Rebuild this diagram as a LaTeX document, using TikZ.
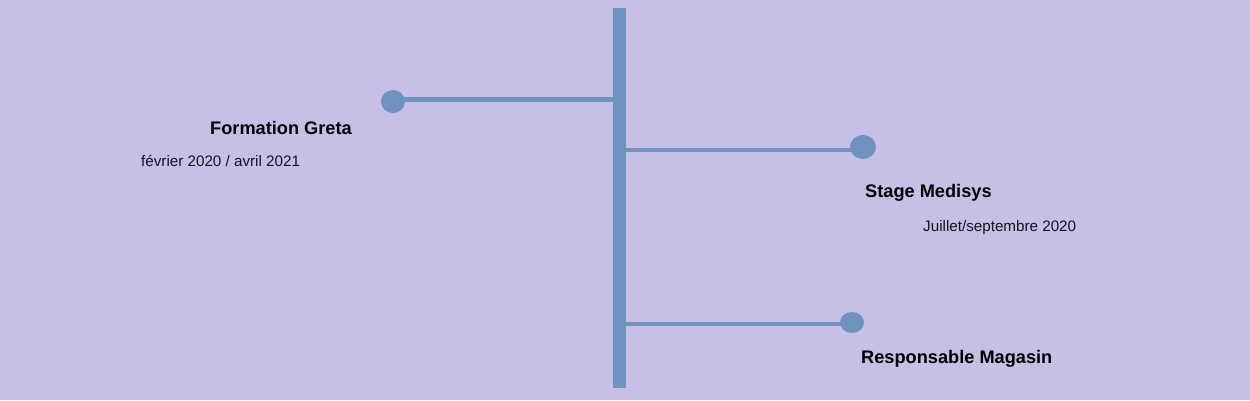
\documentclass[tikz,border=0pt]{standalone}
\usepackage{fontspec}
\setmainfont{Liberation Sans}
\definecolor{bg}{RGB}{199,191,230}
\definecolor{bar}{RGB}{112,146,190}
\begin{document}
\begin{tikzpicture}[x=1pt,y=-1pt,
  branch/.style={draw=bar,line width=4.5pt},
  dot/.style={fill=bar},
  title/.style={anchor=base west,inner sep=0pt,font=\fontsize{18.2}{21}\selectfont\bfseries,text=black},
  date/.style={anchor=base west,inner sep=0pt,font=\fontsize{15.2}{18}\selectfont,text=black!85!bar}]
\fill[bg] (0,0) rectangle (1250,400);
\useasboundingbox (0,0) rectangle (1250,400);
% spine
\fill[bar] (613,8) rectangle (626,388);
\coordinate (s1) at (613,99.5);
\coordinate (s2) at (626,150);
\coordinate (s3) at (626,324);
% dots
\coordinate (d1) at (393,101.5);
\coordinate (d2) at (863,147);
\coordinate (d3) at (852,322.5);
\draw[branch] (s1) -- (d1 |- s1);
\draw[branch] (s2) -- (d2 |- s2);
\draw[branch] (s3) -- (d3 |- s3);
\fill[dot] (d1) ellipse [x radius=12, y radius=11.5];
\fill[dot] (d2) ellipse [x radius=13, y radius=12];
\fill[dot] (d3) ellipse [x radius=12, y radius=10.5];
% labels
\node[title] (t1) at (210,134) {Formation Greta};
\node[date] (a1) at (141,166) {février 2020 / avril 2021};
\node[title] (t2) at (865,197) {Stage Medisys};
\node[date] (a2) at (923,231) {Juillet/septembre 2020};
\node[title] (t3) at (861,363) {Responsable Magasin};
\end{tikzpicture}
\end{document}
